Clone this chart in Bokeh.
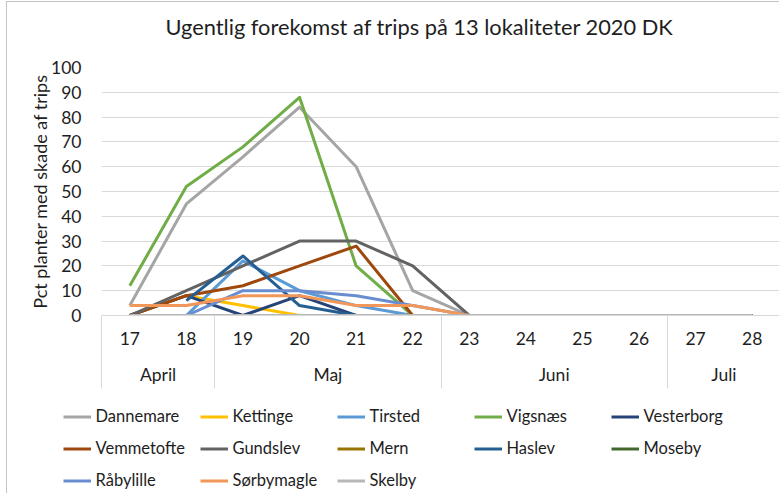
import numpy as np
from bokeh.plotting import figure
from bokeh.models import Range1d, FixedTicker, LinearAxis, Legend, LegendItem, Title
from bokeh.embed import file_html
from bokeh.resources import INLINE

NaN = float("nan")

# ---- data ----
weeks = [17, 18, 19, 20, 21, 22, 23, 24, 25, 26, 27, 28]
week_labels = ["17", "18", "19", "20", "21", "22", "23", "24", "25", "26", "27", "28"]
month_names = ["April", "Maj", "Juni", "Juli"]
month_weeks = [[17, 18], [19, 20, 21, 22], [23, 24, 25, 26], [27, 28]]

dannemare = [4, 45, 64, 84, 60, 10, 0, 0, 0, 0, 0, 0]
kettinge = [0, 8, 4, 0, 0, 0, 0, 0, 0, 0, 0, 0]
tirsted = [0, 0, 22, 10, 4, 0, 0, 0, 0, 0, 0, 0]
vigsnaes = [12, 52, 68, 88, 20, 0, 0, 0, 0, 0, 0, 0]
vesterborg = [0, 8, 0, 8, 0, 0, 0, 0, 0, 0, 0, 0]
vemmetofte = [0, 8, 12, 20, 28, 0, 0, 0, 0, 0, 0, 0]
gundslev = [0, 10, 20, 30, 30, 20, 0, 0, 0, 0, 0, 0]
mern = [0, 0, 0, 0, 0, 0, 0, 0, 0, 0, 0, 0]
haslev = [NaN, 6, 24, 4, 0, 0, 0, 0, 0, 0, 0, 0]
moseby = [0, 0, 0, 0, 0, 0, 0, 0, 0, 0, 0, 0]
raabylille = [0, 0, 10, 10, 8, 4, 0, 0, 0, 0, 0, 0]
soerbymagle = [4, 4, 8, 8, 4, 4, 0, 0, 0, 0, 0, 0]
skelby = [0, 0, 0, 0, 0, 0, 0, 0, 0, 0, 0, 0]

series_names = ["Dannemare", "Kettinge", "Tirsted", "Vigsnæs", "Vesterborg",
                "Vemmetofte", "Gundslev", "Mern", "Haslev", "Moseby",
                "Råbylille", "Sørbymagle", "Skelby"]
series_values = [dannemare, kettinge, tirsted, vigsnaes, vesterborg,
                 vemmetofte, gundslev, mern, haslev, moseby,
                 raabylille, soerbymagle, skelby]
series_colors = ["#A5A5A5", "#FFC000", "#5B9BD5", "#70AD47", "#264478",
                 "#9E480E", "#636363", "#997300", "#255E91", "#43682B",
                 "#698ED0", "#F1975A", "#B7B7B7"]

y_ticks = [0, 10, 20, 30, 40, 50, 60, 70, 80, 90, 100]
title_text = "Ugentlig forekomst af trips på 13 lokaliteter 2020 DK"
y_label = "Pct planter med skade af trips"

FONT = "Lato"
TXT = "#1e1e1e"
GRID = "#d9d9d9"
BORDER = "1px solid #c4c4c4"

month_centers = [float(np.mean(w)) for w in month_weeks]
month_bounds = [w[0] - 0.5 for w in month_weeks]

# ================= main chart =================
p = figure(width=773, height=388, title=None,
           x_range=Range1d(month_bounds[0], weeks[-1] + 0.5),
           y_range=Range1d(0, 100),
           output_backend="svg", toolbar_location=None,
           min_border_left=94, min_border_top=65, min_border_right=0,
           min_border_bottom=75)
p.styles = {"margin-left": "6px", "margin-top": "1px",
            "border-left": BORDER, "border-top": BORDER}
p.outline_line_color = None
p.background_fill_color = "white"
p.border_fill_color = "white"

# title (spacer first = closest to the plot area)
p.add_layout(Title(text=" ", text_font_size="1px", standoff=24), "above")
p.add_layout(Title(text=title_text, align="left", offset=64, standoff=2,
                   text_font=FONT, text_font_size="21.8px",
                   text_font_style="normal", text_color=TXT), "above")

# grid
p.xgrid.visible = False
p.ygrid.ticker = FixedTicker(ticks=y_ticks)
p.ygrid.grid_line_color = GRID
p.ygrid.grid_line_width = 1

# y axis
ya = p.yaxis[0]
ya.ticker = FixedTicker(ticks=y_ticks)
ya.major_tick_out = 0
ya.major_tick_in = 0
ya.minor_tick_out = 0
ya.minor_tick_in = 0
ya.axis_line_color = None
ya.major_label_standoff = 20
ya.major_label_text_font = FONT
ya.major_label_text_font_size = "17.5px"
ya.major_label_text_color = TXT
ya.axis_label = y_label
ya.axis_label_standoff = -3
ya.axis_label_text_font = FONT
ya.axis_label_text_font_size = "18px"
ya.axis_label_text_font_style = "normal"
ya.axis_label_text_color = TXT

# x axis: weeks (month separators drawn as long minor ticks)
xa = p.xaxis[0]
xa.ticker = FixedTicker(ticks=weeks, minor_ticks=month_bounds)
xa.major_label_overrides = {w: l for w, l in zip(weeks, week_labels)}
xa.major_tick_out = 0
xa.major_tick_in = 0
xa.minor_tick_in = 0
xa.minor_tick_out = 73
xa.minor_tick_line_color = GRID
xa.minor_tick_line_width = 1
xa.axis_line_color = GRID
xa.major_label_standoff = -57
xa.major_label_text_font = FONT
xa.major_label_text_font_size = "17.5px"
xa.major_label_text_color = TXT

# x axis: months
ma = LinearAxis(ticker=FixedTicker(ticks=month_centers))
ma.major_label_overrides = {c: m for c, m in zip(month_centers, month_names)}
ma.major_tick_out = 0
ma.major_tick_in = 0
ma.minor_tick_out = 0
ma.minor_tick_in = 0
ma.axis_line_color = None
ma.major_label_standoff = 16
ma.major_label_text_font = FONT
ma.major_label_text_font_size = "17.5px"
ma.major_label_text_color = TXT
p.add_layout(ma, "below")

for name, vals, col in zip(series_names, series_values, series_colors):
    p.line(weeks, np.array(vals, dtype=float), line_color=col,
           line_width=3, line_join="round")

# ================= legend strip =================
lf = figure(width=773, height=104, title=None,
            x_range=Range1d(0, 1), y_range=Range1d(1000, 1001),
            x_axis_type=None, y_axis_type=None,
            output_backend="svg", toolbar_location=None,
            min_border_left=0, min_border_right=0, min_border_top=0,
            min_border_bottom=0)
lf.styles = {"margin-left": "6px", "border-left": BORDER}
lf.outline_line_color = None
lf.xgrid.visible = False
lf.ygrid.visible = False
lf.background_fill_color = "white"
lf.border_fill_color = "white"

items = []
for name, vals, col in zip(series_names, series_values, series_colors):
    r = lf.line(weeks, np.array(vals, dtype=float), line_color=col,
                line_width=3)
    items.append(LegendItem(label=name, renderers=[r]))

legend = Legend(items=items, orientation="horizontal", ncols=5,
                location=(55.5, 2.5),
                glyph_width=28, glyph_height=21, label_height=21,
                label_width=93, label_standoff=5, spacing=11,
                padding=0, margin=0,
                border_line_color=None, background_fill_alpha=0,
                label_text_font=FONT, label_text_font_size="16.5px",
                label_text_color=TXT)
lf.add_layout(legend)

open("out.html", "w").write(file_html([p, lf], INLINE))
